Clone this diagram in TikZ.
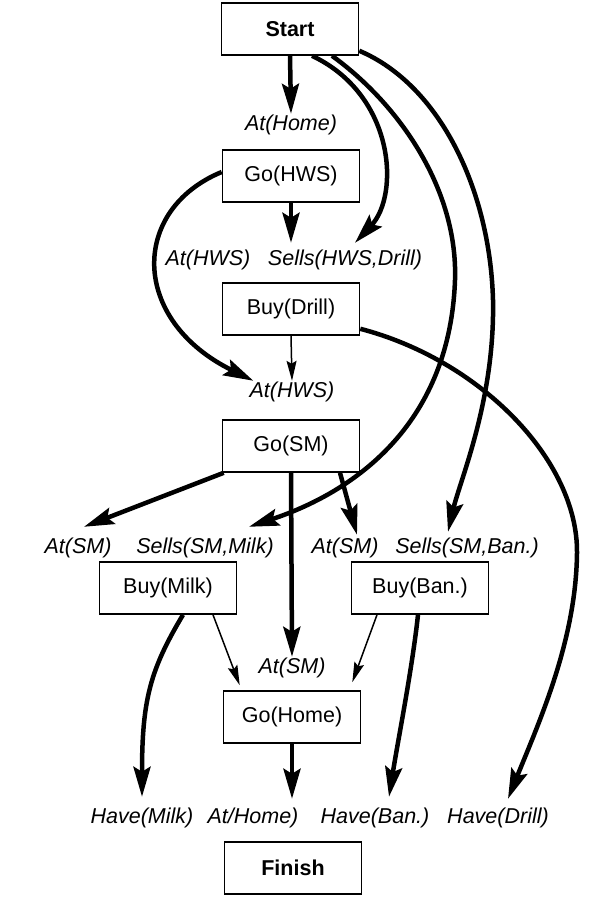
\documentclass[tikz,border=0pt]{standalone}
\usepackage{fontspec}
\setmainfont{Liberation Sans}
\usetikzlibrary{arrows.meta}
\newcommand{\stepBox}[4][]{%%
  \node[boxStyle,#1] (#2) at (#3) {#4};
}
\newcommand{\condLabel}[3]{%%
  \node[condStyle] (#1) at (#2) {#3};
}

\begin{document}
\begin{tikzpicture}[%%
  x=1pt,y=-1pt,%%
  boxStyle/.style={draw,line width=1.6pt,minimum width=137pt,minimum height=52pt,inner sep=0pt,font=\fontsize{21.5}{24}\selectfont},%%
  condStyle/.style={inner sep=1pt,font=\fontsize{21.5}{24}\selectfont\itshape},%%
  heavyArrowStyle/.style={line width=4.5pt,-{Stealth[length=30pt,width=17pt,inset=5pt]}},%%
  lightArrowStyle/.style={line width=1.5pt,-{Stealth[length=20pt,width=10pt,inset=3pt]}}
]
\useasboundingbox (0,0) rectangle (593,904);
%%
%% The plan steps.
\stepBox[font=\fontsize{21.5}{24}\selectfont\bfseries]{start}{290,29}{Start}
\stepBox{goHWS}{291,176}{Go(HWS)}
\stepBox{buyDrill}{291,309}{Buy(Drill)}
\stepBox{goSM}{291,446}{Go(SM)}
\stepBox{buyMilk}{168,588}{Buy(Milk)}
\stepBox{buyBan}{420,588}{Buy(Ban.)}
\stepBox{goHome}{292,717}{Go(Home)}
\stepBox[font=\fontsize{21.5}{24}\selectfont\bfseries]{finish}{293,868}{Finish}
%%
%% The conditions.
\condLabel{atHome}{291,125}{At(Home)}
\condLabel{atHWSa}{208,260}{At(HWS)}
\condLabel{sellsHWS}{345,260}{Sells(HWS,Drill)}
\condLabel{atHWSb}{292,392}{At(HWS)}
\condLabel{atSMa}{78,548}{At(SM)}
\condLabel{sellsMilk}{205,548}{Sells(SM,Milk)}
\condLabel{atSMb}{345,548}{At(SM)}
\condLabel{sellsBan}{467,548}{Sells(SM,Ban.)}
\condLabel{atSMc}{292,668}{At(SM)}
\condLabel{haveMilk}{142,818}{Have(Milk)}
\condLabel{atHomeEnd}{253,818}{At/Home)}
\condLabel{haveBan}{375,818}{Have(Ban.)}
\condLabel{haveDrill}{498,818}{Have(Drill)}
%%
%% Links out of Start.
\draw[heavyArrowStyle] (start.south) -- (atHome.north);
\draw[heavyArrowStyle] ([xshift=22pt]start.south) .. controls (395,95) and (400,195) .. ([xshift=10pt,yshift=6pt]sellsHWS.north);
\draw[heavyArrowStyle] ([xshift=42pt]start.south) .. controls (400,105) and (458,190) .. (455,280)
  .. controls (450,420) and (360,490) .. ([xshift=44pt,yshift=10pt]sellsMilk.north);
\draw[heavyArrowStyle] ([yshift=5pt]start.south east) .. controls (440,85) and (490,190) .. (493,300)
  .. controls (495,400) and (460,480) .. ([xshift=-19pt,yshift=5pt]sellsBan.north);
%%
%% Hardware store.
\draw[heavyArrowStyle] (goHWS.south) -- ([yshift=6pt]goHWS.south |- sellsHWS.north);
\draw[heavyArrowStyle] ([yshift=4pt]goHWS.west) .. controls (130,210) and (130,320) .. ([xshift=5pt]atHWSb.north west);
\draw[lightArrowStyle] (buyDrill.south) -- (atHWSb.north);
\draw[heavyArrowStyle] ([yshift=7pt]buyDrill.south east) .. controls (480,360) and (578,460) .. (577,553)
  .. controls (576,640) and (540,720) .. ([xshift=10pt,yshift=8pt]haveDrill.north);
%%
%% Supermarket.
\draw[heavyArrowStyle] ([xshift=2pt]goSM.south west) -- ([xshift=6pt,yshift=10pt]atSMa.north);
\draw[heavyArrowStyle] ([xshift=49pt]goSM.south) -- ([xshift=12pt,yshift=2pt]atSMb.north);
\draw[heavyArrowStyle] (goSM.south) -- (atSMc.north);
\draw[heavyArrowStyle] ([xshift=15pt]buyMilk.south) .. controls (150,670) and (142,700) .. ([yshift=10pt]haveMilk.north);
\draw[lightArrowStyle] ([xshift=45pt]buyMilk.south) -- ([xshift=17pt,yshift=5pt]goHome.north west);
\draw[lightArrowStyle] ([xshift=-43pt]buyBan.south) -- ([xshift=-9pt,yshift=8pt]goHome.north east);
\draw[heavyArrowStyle] ([xshift=-2pt]buyBan.south) .. controls (412,670) and (398,740) .. ([xshift=14pt,yshift=10pt]haveBan.north);
%%
%% Home again.
\draw[heavyArrowStyle] (goHome.south) -- ([yshift=8pt]goHome.south |- atHomeEnd.north);
\end{tikzpicture}
\end{document}
